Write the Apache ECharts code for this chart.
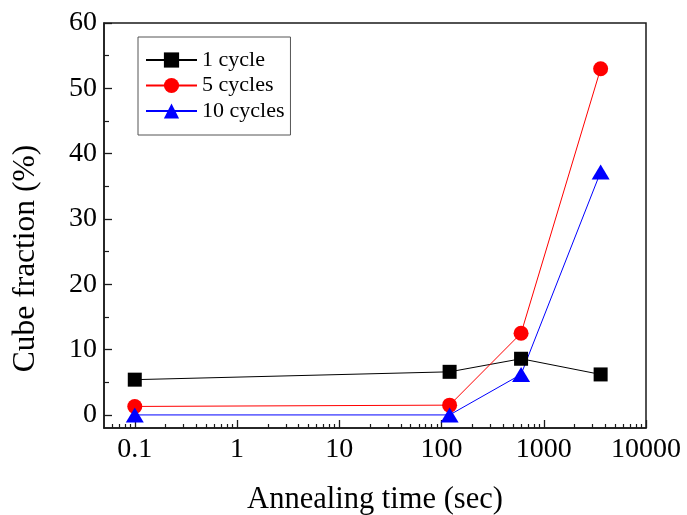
<!DOCTYPE html>
<html>
<head>
<meta charset="utf-8">
<script src="https://cdn.jsdelivr.net/npm/echarts@6/dist/echarts.min.js"></script>
<style>html,body{margin:0;padding:0;background:#fff}#c{width:687px;height:515px}</style>
</head>
<body>
<div id="c"></div>
<script>
// ---- data ----
const annealTime = [0.1, 120, 600, 3600];
const oneCycle = [5.4, 6.6, 8.6, 6.2];
const fiveCycles = [1.3, 1.5, 12.5, 53];
const tenCycles = [0, 0, 6.2, 37.2];
const seriesNames = ['1 cycle', '5 cycles', '10 cycles'];
const xTickLabels = [0.1, 1, 10, 100, 1000, 10000];
const yTickLabels = [0, 10, 20, 30, 40, 50, 60];
const yMinorTicks = [5, 15, 25, 35, 45, 55];

const xMinorTicks = [];
[0.01, 0.1, 1, 10, 100, 1000].forEach(function (d) {
  for (let k = 2; k <= 9; k++) {
    const v = +(d * k).toPrecision(6);
    if (v > 0.05 && v < 10000) xMinorTicks.push(v);
  }
});

const FONT = '"Liberation Serif", "Times New Roman", serif';
const pairs = (ys) => annealTime.map((x, i) => [x, ys[i]]);

const chart = echarts.init(document.getElementById('c'), null, {renderer: 'canvas'});
const gridBase = {left: 104, right: 41, top: 23, bottom: 87};

chart.setOption({
  animation: false,
  backgroundColor: '#fff',
  grid: Object.assign({show: true, borderColor: '#1a1a1a', borderWidth: 1.5, backgroundColor: 'transparent',
    containLabel: false, outerBoundsMode: 'none'}, gridBase),
  legend: {
    orient: 'vertical',
    left: 138, top: 37,
    itemWidth: 51, itemHeight: 19, itemGap: 3.5,
    padding: [12, 6, 13, 7],
    borderColor: '#555', borderWidth: 1,
    textStyle: {fontFamily: FONT, fontSize: 22, color: '#000'},
    data: seriesNames
  },
  xAxis: [{
    type: 'log', logBase: 10, min: 0.05, max: 10000, position: 'bottom',
    name: 'Annealing time (sec)', nameLocation: 'middle', nameGap: 56,
    nameTextStyle: {fontFamily: FONT, fontSize: 30.5, color: '#000'},
    axisLine: {show: true, onZero: false, lineStyle: {color: '#1a1a1a', width: 1.5}},
    axisTick: {show: true, inside: true, length: 8, lineStyle: {color: '#1a1a1a', width: 1.3}, customValues: xTickLabels},
    axisLabel: {fontFamily: FONT, fontSize: 28, color: '#000', margin: 8, customValues: xTickLabels,
      formatter: (v) => String(v)},
    splitLine: {show: false}, minorTick: {show: false}
  }, {
    type: 'log', logBase: 10, min: 0.05, max: 10000, position: 'bottom', offset: 0,
    axisLine: {show: false, onZero: false},
    axisTick: {show: true, inside: true, length: 4, lineStyle: {color: '#1a1a1a', width: 1.2}, customValues: xMinorTicks},
    axisLabel: {show: false},
    splitLine: {show: false}
  }],
  yAxis: [{
    type: 'value', min: -2, max: 60, position: 'left',
    name: 'Cube fraction (%)', nameLocation: 'middle', nameGap: 62,
    nameTextStyle: {fontFamily: FONT, fontSize: 31.5, color: '#000', padding: [0, 66, 0, 0]},
    axisLine: {show: true, onZero: false, lineStyle: {color: '#1a1a1a', width: 1.5}},
    axisTick: {show: true, inside: true, length: 8, lineStyle: {color: '#1a1a1a', width: 1.3}, customValues: yTickLabels},
    axisLabel: {fontFamily: FONT, fontSize: 28, color: '#000', margin: 7, customValues: yTickLabels},
    splitLine: {show: false}
  }, {
    type: 'value', min: -2, max: 60, position: 'left', offset: 0,
    axisLine: {show: false, onZero: false},
    axisTick: {show: true, inside: true, length: 5, lineStyle: {color: '#1a1a1a', width: 1.2}, customValues: yMinorTicks},
    axisLabel: {show: false},
    splitLine: {show: false}
  }],
  series: [{
    name: seriesNames[0], type: 'line', data: pairs(oneCycle),
    symbol: 'rect', symbolSize: 14,
    lineStyle: {color: '#000', width: 1}, itemStyle: {color: '#000'}
  }, {
    name: seriesNames[1], type: 'line', data: pairs(fiveCycles),
    symbol: 'circle', symbolSize: 15,
    lineStyle: {color: '#ff0000', width: 1}, itemStyle: {color: '#ff0000'}
  }, {
    name: seriesNames[2], type: 'line', data: pairs(tenCycles),
    symbol: 'triangle', symbolSize: [18, 15],
    lineStyle: {color: '#0000ff', width: 1}, itemStyle: {color: '#0000ff'}
  }]
});
</script>
</body>
</html>
